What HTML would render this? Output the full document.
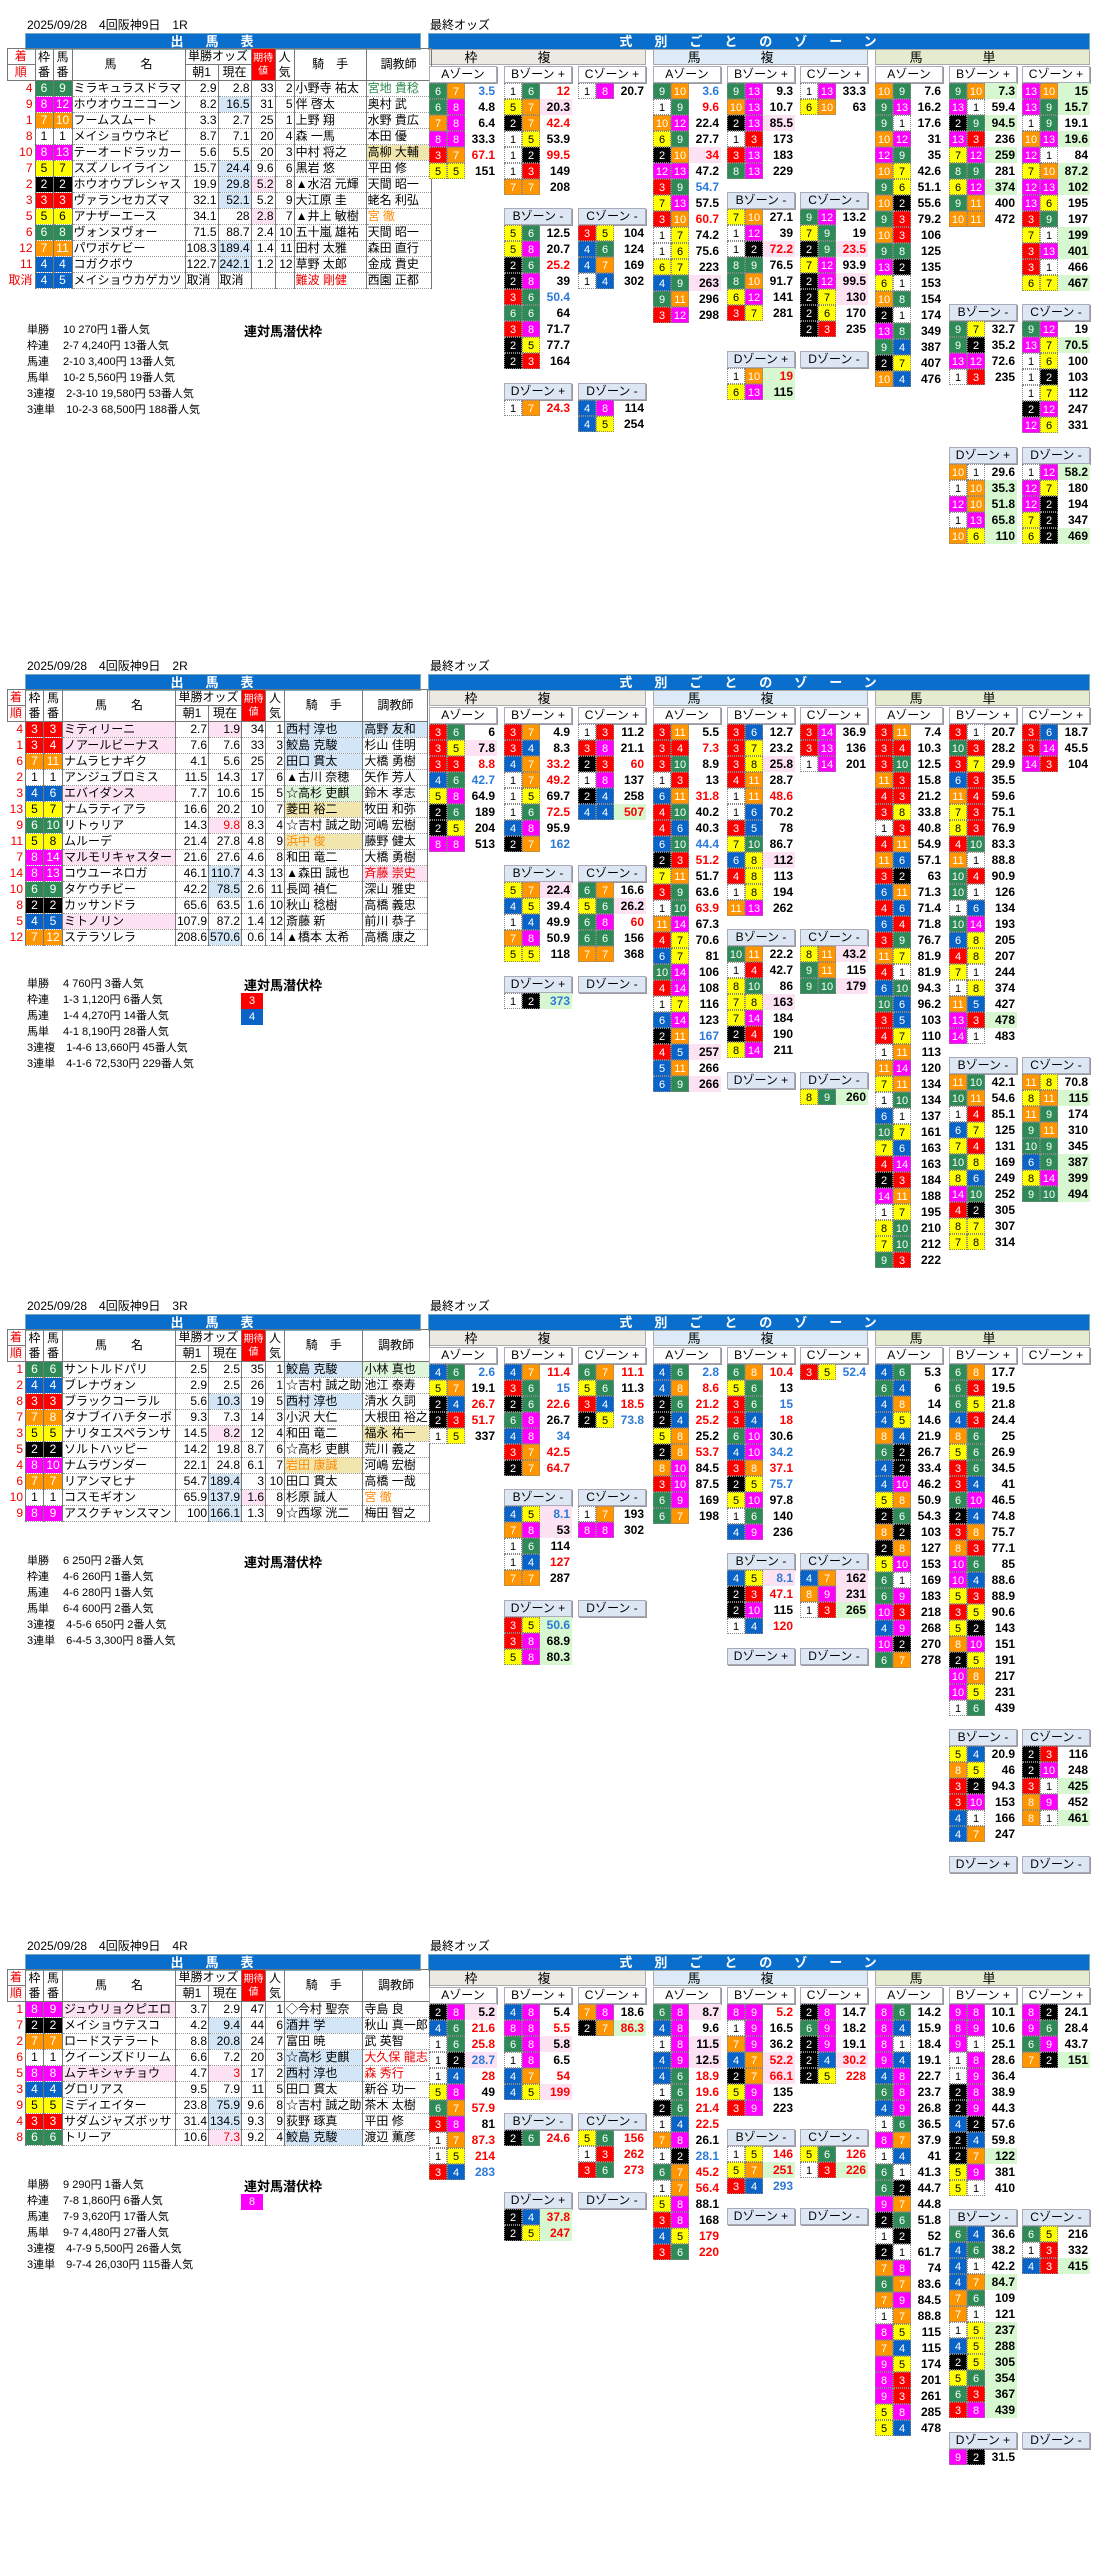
<!DOCTYPE html>
<html><head><meta charset="utf-8">
<style>
body{margin:0;width:1093px;height:2560px;position:relative;background:#fff;font-family:"Liberation Sans","Noto Sans CJK JP",sans-serif;overflow:hidden;color:#000}
.blk{position:absolute;left:0;width:1093px;height:640px}
.ti{position:absolute;left:27px;top:16px;font-size:12px;white-space:pre}
.ti2{left:430px}
.bar{position:absolute;top:33px;height:15px;background:#0a6fcc;color:#fff;font-size:13px;font-weight:bold;text-align:center;line-height:15px;letter-spacing:22px;border:1px solid #7ab}
.sh{position:absolute;top:49px;height:15px;font-size:13px;text-align:center;line-height:15px;border:1px solid #aaa;letter-spacing:60px;box-sizing:border-box;height:16px}
table{position:absolute;left:7px;top:48px;border-collapse:collapse;table-layout:fixed;font-size:12px}
td{height:15px;padding:0 1px;border:1px solid #777;border-top:1px dotted #999;border-bottom:1px dotted #999;white-space:nowrap;overflow:hidden;line-height:15px}
td.o{border:none;color:#e00;text-align:right;padding-right:2px}
tr.hd td{text-align:center;border:1px solid #777;font-size:12px}
td.n{text-align:right}
td.c{text-align:center}
.lb{background:#d3e6f8}.pk{background:#fde2f4}.yl{background:#f1e7ae}.gn{background:#ddf5d8}
.red{color:#e00}.org{color:#f80}.grt{color:#2a8a4a}
.pay{position:absolute;left:27px;font-size:11px;line-height:16px;white-space:pre}
.sen{position:absolute;left:244px;font-size:13px;font-weight:bold}
.sb{position:absolute;left:241px;width:22px;height:16px;color:#fff;text-align:center;font-size:11px;line-height:16px}
.z{position:absolute;width:68px}
.z h6{margin:0;height:15px;border:1px solid #aab;box-shadow:1px 1px 0 #999;font-size:12px;text-align:center;line-height:15px;font-weight:normal;background:#fff;white-space:nowrap}
.z h6.m{background:#dde7f3}
.z p{margin:0;height:16px;display:flex}
.z i{width:18px;height:16px;font-style:normal;text-align:center;font-size:11px;line-height:16px;box-sizing:border-box;border:1px dotted #888}
.z b{flex:1;text-align:right;font-size:12px;line-height:16px;padding-right:2px}
.z b.r{color:#f00}.z b.u{color:#2b7ad8}.z b.g{background:#d6f7d0}.z b.k{background:#fde2f4}
.f1,.b1 .h1,.b2 .h1,.b3 .h1,.b4 .h1{background:#fff;color:#000}
.f2,.b1 .h2,.b2 .h2,.b3 .h2,.b4 .h2{background:#000;color:#fff}
.f3,.b1 .h3,.b2 .h3,.b2 .h4,.b3 .h3,.b4 .h3{background:#f00;color:#fff}
.f4,.b1 .h4,.b1 .h5,.b2 .h5,.b2 .h6,.b3 .h4,.b4 .h4{background:#0a64c8;color:#fff}
.f5,.b1 .h6,.b1 .h7,.b2 .h7,.b2 .h8,.b3 .h5,.b4 .h5{background:#ff0;color:#000}
.f6,.b1 .h8,.b1 .h9,.b2 .h9,.b2 .h10,.b3 .h6,.b4 .h6{background:#2e8b57;color:#fff}
.f7,.b1 .h10,.b1 .h11,.b2 .h11,.b2 .h12,.b3 .h7,.b3 .h8,.b4 .h7{background:#ff9600;color:#fff}
.f8,.b1 .h12,.b1 .h13,.b2 .h13,.b2 .h14,.b3 .h9,.b3 .h10,.b4 .h8,.b4 .h9{background:#f0f;color:#fff}
</style></head><body>

<!-- ================= BLOCK 1 ================= -->
<div class="blk b1" style="top:0">
<div class="ti">2025/09/28　4回阪神9日　1R</div>
<div class="ti ti2">最終オッズ</div>
<div class="bar" style="left:25px;width:394px">出馬表</div>
<div class="bar" style="left:428px;width:660px">式別ごとのゾーン</div>
<div class="sh" style="left:429px;width:217px;background:#ece9e2">枠複</div>
<div class="sh" style="left:653px;width:215px;background:#dcebf7">馬複</div>
<div class="sh" style="left:875px;width:215px;background:#e4ebcf">馬単</div>
<table>
<colgroup><col style="width:18px"><col style="width:18px"><col style="width:19px"><col style="width:113px"><col style="width:33px"><col style="width:33px"><col style="width:24px"><col style="width:19px"><col style="width:72px"><col style="width:65px"></colgroup>
<tr class="hd"><td class="o" style="text-align:center">着</td><td rowspan="2">枠<br>番</td><td rowspan="2">馬<br>番</td><td rowspan="2">馬　　名</td><td colspan="2">単勝オッズ</td><td rowspan="2" style="background:#f00;color:#fff;font-size:10px;white-space:normal;line-height:13px">期待値</td><td rowspan="2">人<br>気</td><td rowspan="2">騎　手</td><td rowspan="2">調教師</td></tr>
<tr class="hd"><td class="o" style="text-align:center">順</td><td>朝1</td><td>現在</td></tr>
<tr><td class="o">4</td><td class="c f6">6</td><td class="c f6">9</td><td>ミラキュラスドラマ</td><td class="n">2.9</td><td class="n">2.8</td><td class="n">33</td><td class="n">2</td><td>小野寺 祐太</td><td class="grt">宮地 貴稔</td></tr>
<tr><td class="o">9</td><td class="c f8">8</td><td class="c f8">12</td><td>ホウオウユニコーン</td><td class="n">8.2</td><td class="n lb">16.5</td><td class="n">31</td><td class="n">5</td><td>伴 啓太</td><td>奥村 武</td></tr>
<tr><td class="o">1</td><td class="c f7">7</td><td class="c f7">10</td><td>フームスムート</td><td class="n">3.3</td><td class="n">2.7</td><td class="n">25</td><td class="n">1</td><td>上野 翔</td><td>水野 貴広</td></tr>
<tr><td class="o">8</td><td class="c f1">1</td><td class="c f1">1</td><td>メイショウウネビ</td><td class="n">8.7</td><td class="n">7.1</td><td class="n">20</td><td class="n">4</td><td>森 一馬</td><td>本田 優</td></tr>
<tr><td class="o">10</td><td class="c f8">8</td><td class="c f8">13</td><td>テーオードラッカー</td><td class="n">5.6</td><td class="n">5.5</td><td class="n">20</td><td class="n">3</td><td>中村 将之</td><td class="yl">高柳 大輔</td></tr>
<tr><td class="o">7</td><td class="c f5">5</td><td class="c f5">7</td><td>スズノレイライン</td><td class="n">15.7</td><td class="n lb">24.4</td><td class="n">9.6</td><td class="n">6</td><td>黒岩 悠</td><td>平田 修</td></tr>
<tr><td class="o">2</td><td class="c f2">2</td><td class="c f2">2</td><td>ホウオウプレシャス</td><td class="n">19.9</td><td class="n lb">29.8</td><td class="n pk">5.2</td><td class="n">8</td><td>▲水沼 元輝</td><td>天間 昭一</td></tr>
<tr><td class="o">3</td><td class="c f3">3</td><td class="c f3">3</td><td>ヴァランセカズマ</td><td class="n">32.1</td><td class="n lb">52.1</td><td class="n">5.2</td><td class="n">9</td><td>大江原 圭</td><td>蛯名 利弘</td></tr>
<tr><td class="o">5</td><td class="c f5">5</td><td class="c f5">6</td><td>アナザーエース</td><td class="n">34.1</td><td class="n">28</td><td class="n pk">2.8</td><td class="n">7</td><td>▲井上 敏樹</td><td class="org">宮 徹</td></tr>
<tr><td class="o">6</td><td class="c f6">6</td><td class="c f6">8</td><td>ヴォンヌヴォー</td><td class="n">71.5</td><td class="n">88.7</td><td class="n">2.4</td><td class="n">10</td><td>五十嵐 雄祐</td><td>天間 昭一</td></tr>
<tr><td class="o">12</td><td class="c f7">7</td><td class="c f7">11</td><td>パワボケビー</td><td class="n">108.3</td><td class="n lb">189.4</td><td class="n">1.4</td><td class="n">11</td><td>田村 太雅</td><td>森田 直行</td></tr>
<tr><td class="o">11</td><td class="c f4">4</td><td class="c f4">4</td><td>コガクボウ</td><td class="n">122.7</td><td class="n lb">242.1</td><td class="n">1.2</td><td class="n">12</td><td>草野 太郎</td><td>金成 貴史</td></tr>
<tr><td class="o">取消</td><td class="c f4">4</td><td class="c f4">5</td><td>メイショウカゲカツ</td><td>取消</td><td>取消</td><td></td><td></td><td class="red">難波 剛健</td><td>西園 正都</td></tr>
</table>
<div class="pay" style="top:322px">単勝　 10 270円 1番人気
枠連　 2-7 4,240円 13番人気
馬連　 2-10 3,400円 13番人気
馬単　 10-2 5,560円 19番人気
3連複　2-3-10 19,580円 53番人気
3連単　10-2-3 68,500円 188番人気</div>
<div class="sen" style="top:321px">連対馬潜伏枠</div>

<div class="z" style="left:429px;top:66px"><h6>Aゾーン</h6>
<p><i class=f6>6</i><i class=f7>7</i><b class=u>3.5</b></p><p><i class=f6>6</i><i class=f8>8</i><b>4.8</b></p><p><i class=f7>7</i><i class=f8>8</i><b>6.4</b></p><p><i class=f8>8</i><i class=f8>8</i><b>33.3</b></p><p><i class=f3>3</i><i class=f7>7</i><b class=r>67.1</b></p><p><i class=f5>5</i><i class=f5>5</i><b>151</b></p></div>
<div class="z" style="left:504px;top:66px"><h6>Bゾーン +</h6>
<p><i class=f1>1</i><i class=f6>6</i><b class=r>12</b></p><p><i class=f5>5</i><i class=f7>7</i><b class=k>20.3</b></p><p><i class=f2>2</i><i class=f7>7</i><b class=r>42.4</b></p><p><i class=f1>1</i><i class=f5>5</i><b>53.9</b></p><p><i class=f1>1</i><i class=f2>2</i><b class=r>99.5</b></p><p><i class=f1>1</i><i class=f3>3</i><b>149</b></p><p><i class=f7>7</i><i class=f7>7</i><b>208</b></p></div>
<div class="z" style="left:578px;top:66px"><h6>Cゾーン +</h6>
<p><i class=f1>1</i><i class=f8>8</i><b>20.7</b></p></div>
<div class="z" style="left:504px;top:208px"><h6 class=m>Bゾーン -</h6>
<p><i class=f5>5</i><i class=f6>6</i><b>12.5</b></p><p><i class=f5>5</i><i class=f8>8</i><b>20.7</b></p><p><i class=f2>2</i><i class=f6>6</i><b class=r>25.2</b></p><p><i class=f2>2</i><i class=f8>8</i><b>39</b></p><p><i class=f3>3</i><i class=f6>6</i><b class=u>50.4</b></p><p><i class=f6>6</i><i class=f6>6</i><b>64</b></p><p><i class=f3>3</i><i class=f8>8</i><b>71.7</b></p><p><i class=f2>2</i><i class=f5>5</i><b>77.7</b></p><p><i class=f2>2</i><i class=f3>3</i><b>164</b></p></div>
<div class="z" style="left:578px;top:208px"><h6 class=m>Cゾーン -</h6>
<p><i class=f3>3</i><i class=f5>5</i><b>104</b></p><p><i class=f4>4</i><i class=f6>6</i><b>124</b></p><p><i class=f4>4</i><i class=f7>7</i><b>169</b></p><p><i class=f1>1</i><i class=f4>4</i><b>302</b></p></div>
<div class="z" style="left:504px;top:383px"><h6 class=m>Dゾーン +</h6>
<p><i class=f1>1</i><i class=f7>7</i><b class=r>24.3</b></p></div>
<div class="z" style="left:578px;top:383px"><h6 class=m>Dゾーン -</h6>
<p><i class=f4>4</i><i class=f8>8</i><b>114</b></p><p><i class=f4>4</i><i class=f5>5</i><b>254</b></p></div>

<div class="z" style="left:653px;top:66px"><h6>Aゾーン</h6>
<p><i class=h9>9</i><i class=h10>10</i><b class=u>3.6</b></p><p><i class=h1>1</i><i class=h9>9</i><b class=r>9.6</b></p><p><i class=h10>10</i><i class=h12>12</i><b>22.4</b></p><p><i class=h6>6</i><i class=h9>9</i><b>27.7</b></p><p><i class=h2>2</i><i class=h10>10</i><b class="r k">34</b></p><p><i class=h12>12</i><i class=h13>13</i><b>47.2</b></p><p><i class=h3>3</i><i class=h9>9</i><b class=u>54.7</b></p><p><i class=h7>7</i><i class=h13>13</i><b>57.5</b></p><p><i class=h3>3</i><i class=h10>10</i><b class=r>60.7</b></p><p><i class=h1>1</i><i class=h7>7</i><b>74.2</b></p><p><i class=h1>1</i><i class=h6>6</i><b>75.6</b></p><p><i class=h6>6</i><i class=h7>7</i><b>223</b></p><p><i class=h4>4</i><i class=h9>9</i><b class=k>263</b></p><p><i class=h9>9</i><i class=h11>11</i><b>296</b></p><p><i class=h3>3</i><i class=h12>12</i><b>298</b></p></div>
<div class="z" style="left:727px;top:66px"><h6>Bゾーン +</h6>
<p><i class=h9>9</i><i class=h13>13</i><b>9.3</b></p><p><i class=h10>10</i><i class=h13>13</i><b>10.7</b></p><p><i class=h2>2</i><i class=h13>13</i><b class=k>85.5</b></p><p><i class=h1>1</i><i class=h3>3</i><b>173</b></p><p><i class=h3>3</i><i class=h13>13</i><b>183</b></p><p><i class=h8>8</i><i class=h13>13</i><b>229</b></p></div>
<div class="z" style="left:800px;top:66px"><h6>Cゾーン +</h6>
<p><i class=h1>1</i><i class=h13>13</i><b>33.3</b></p><p><i class=h6>6</i><i class=h10>10</i><b>63</b></p></div>
<div class="z" style="left:727px;top:192px"><h6 class=m>Bゾーン -</h6>
<p><i class=h7>7</i><i class=h10>10</i><b>27.1</b></p><p><i class=h1>1</i><i class=h12>12</i><b>39</b></p><p><i class=h1>1</i><i class=h2>2</i><b class="r k">72.2</b></p><p><i class=h8>8</i><i class=h9>9</i><b>76.5</b></p><p><i class=h8>8</i><i class=h10>10</i><b>91.7</b></p><p><i class=h6>6</i><i class=h12>12</i><b>141</b></p><p><i class=h3>3</i><i class=h7>7</i><b>281</b></p></div>
<div class="z" style="left:800px;top:192px"><h6 class=m>Cゾーン -</h6>
<p><i class=h9>9</i><i class=h12>12</i><b>13.2</b></p><p><i class=h7>7</i><i class=h9>9</i><b>19</b></p><p><i class=h2>2</i><i class=h9>9</i><b class="r k">23.5</b></p><p><i class=h7>7</i><i class=h12>12</i><b>93.9</b></p><p><i class=h2>2</i><i class=h12>12</i><b class=k>99.5</b></p><p><i class=h2>2</i><i class=h7>7</i><b class=k>130</b></p><p><i class=h2>2</i><i class=h6>6</i><b>170</b></p><p><i class=h2>2</i><i class=h3>3</i><b>235</b></p></div>
<div class="z" style="left:727px;top:351px"><h6 class=m>Dゾーン +</h6>
<p><i class=h1>1</i><i class=h10>10</i><b class="r g">19</b></p><p><i class=h6>6</i><i class=h13>13</i><b class=g>115</b></p></div>
<div class="z" style="left:800px;top:351px"><h6 class=m>Dゾーン -</h6></div>

<div class="z" style="left:875px;top:66px"><h6>Aゾーン</h6>
<p><i class=h10>10</i><i class=h9>9</i><b>7.6</b></p><p><i class=h9>9</i><i class=h13>13</i><b>16.2</b></p><p><i class=h9>9</i><i class=h1>1</i><b>17.6</b></p><p><i class=h10>10</i><i class=h12>12</i><b>31</b></p><p><i class=h12>12</i><i class=h9>9</i><b>35</b></p><p><i class=h10>10</i><i class=h7>7</i><b>42.6</b></p><p><i class=h9>9</i><i class=h6>6</i><b>51.1</b></p><p><i class=h10>10</i><i class=h2>2</i><b>55.6</b></p><p><i class=h9>9</i><i class=h3>3</i><b>79.2</b></p><p><i class=h10>10</i><i class=h3>3</i><b>106</b></p><p><i class=h9>9</i><i class=h8>8</i><b>125</b></p><p><i class=h13>13</i><i class=h2>2</i><b>135</b></p><p><i class=h6>6</i><i class=h1>1</i><b>153</b></p><p><i class=h10>10</i><i class=h8>8</i><b>154</b></p><p><i class=h2>2</i><i class=h1>1</i><b>174</b></p><p><i class=h13>13</i><i class=h8>8</i><b>349</b></p><p><i class=h9>9</i><i class=h4>4</i><b>387</b></p><p><i class=h2>2</i><i class=h7>7</i><b>407</b></p><p><i class=h10>10</i><i class=h4>4</i><b>476</b></p></div>
<div class="z" style="left:949px;top:66px"><h6>Bゾーン +</h6>
<p><i class=h9>9</i><i class=h10>10</i><b class=g>7.3</b></p><p><i class=h13>13</i><i class=h1>1</i><b>59.4</b></p><p><i class=h2>2</i><i class=h9>9</i><b class=g>94.5</b></p><p><i class=h13>13</i><i class=h3>3</i><b>236</b></p><p><i class=h7>7</i><i class=h12>12</i><b class=g>259</b></p><p><i class=h8>8</i><i class=h9>9</i><b>281</b></p><p><i class=h6>6</i><i class=h12>12</i><b class=g>374</b></p><p><i class=h9>9</i><i class=h11>11</i><b>400</b></p><p><i class=h10>10</i><i class=h11>11</i><b>472</b></p></div>
<div class="z" style="left:1022px;top:66px"><h6>Cゾーン +</h6>
<p><i class=h13>13</i><i class=h10>10</i><b class=g>15</b></p><p><i class=h13>13</i><i class=h9>9</i><b class=g>15.7</b></p><p><i class=h1>1</i><i class=h9>9</i><b>19.1</b></p><p><i class=h10>10</i><i class=h13>13</i><b class=g>19.6</b></p><p><i class=h12>12</i><i class=h1>1</i><b>84</b></p><p><i class=h7>7</i><i class=h10>10</i><b class=g>87.2</b></p><p><i class=h12>12</i><i class=h13>13</i><b class=g>102</b></p><p><i class=h13>13</i><i class=h6>6</i><b>195</b></p><p><i class=h3>3</i><i class=h9>9</i><b>197</b></p><p><i class=h7>7</i><i class=h1>1</i><b class=g>199</b></p><p><i class=h3>3</i><i class=h13>13</i><b class=g>401</b></p><p><i class=h3>3</i><i class=h1>1</i><b>466</b></p><p><i class=h6>6</i><i class=h7>7</i><b class=g>467</b></p></div>
<div class="z" style="left:949px;top:304px"><h6 class=m>Bゾーン -</h6>
<p><i class=h9>9</i><i class=h7>7</i><b>32.7</b></p><p><i class=h9>9</i><i class=h2>2</i><b>35.2</b></p><p><i class=h13>13</i><i class=h12>12</i><b>72.6</b></p><p><i class=h1>1</i><i class=h3>3</i><b>235</b></p></div>
<div class="z" style="left:1022px;top:304px"><h6 class=m>Cゾーン -</h6>
<p><i class=h9>9</i><i class=h12>12</i><b>19</b></p><p><i class=h13>13</i><i class=h7>7</i><b class=g>70.5</b></p><p><i class=h1>1</i><i class=h6>6</i><b>100</b></p><p><i class=h1>1</i><i class=h2>2</i><b>103</b></p><p><i class=h1>1</i><i class=h7>7</i><b>112</b></p><p><i class=h2>2</i><i class=h12>12</i><b>247</b></p><p><i class=h12>12</i><i class=h6>6</i><b>331</b></p></div>
<div class="z" style="left:949px;top:447px"><h6 class=m>Dゾーン +</h6>
<p><i class=h10>10</i><i class=h1>1</i><b>29.6</b></p><p><i class=h1>1</i><i class=h10>10</i><b class=g>35.3</b></p><p><i class=h12>12</i><i class=h10>10</i><b class=g>51.8</b></p><p><i class=h1>1</i><i class=h13>13</i><b class=g>65.8</b></p><p><i class=h10>10</i><i class=h6>6</i><b class=g>110</b></p></div>
<div class="z" style="left:1022px;top:447px"><h6 class=m>Dゾーン -</h6>
<p><i class=h1>1</i><i class=h12>12</i><b class=g>58.2</b></p><p><i class=h12>12</i><i class=h7>7</i><b>180</b></p><p><i class=h12>12</i><i class=h2>2</i><b>194</b></p><p><i class=h7>7</i><i class=h2>2</i><b>347</b></p><p><i class=h6>6</i><i class=h2>2</i><b class=g>469</b></p></div>
</div>

<!-- ================= BLOCK 2 ================= -->
<div class="blk b2" style="top:641px">
<div class="ti">2025/09/28　4回阪神9日　2R</div>
<div class="ti ti2">最終オッズ</div>
<div class="bar" style="left:25px;width:394px">出馬表</div>
<div class="bar" style="left:428px;width:660px">式別ごとのゾーン</div>
<div class="sh" style="left:429px;width:217px;background:#ece9e2">枠複</div>
<div class="sh" style="left:653px;width:215px;background:#dcebf7">馬複</div>
<div class="sh" style="left:875px;width:215px;background:#e4ebcf">馬単</div>
<table>
<colgroup><col style="width:18px"><col style="width:18px"><col style="width:19px"><col style="width:113px"><col style="width:33px"><col style="width:33px"><col style="width:24px"><col style="width:19px"><col style="width:72px"><col style="width:65px"></colgroup>
<tr class="hd"><td class="o" style="text-align:center">着</td><td rowspan="2">枠<br>番</td><td rowspan="2">馬<br>番</td><td rowspan="2">馬　　名</td><td colspan="2">単勝オッズ</td><td rowspan="2" style="background:#f00;color:#fff;font-size:10px;white-space:normal;line-height:13px">期待値</td><td rowspan="2">人<br>気</td><td rowspan="2">騎　手</td><td rowspan="2">調教師</td></tr>
<tr class="hd"><td class="o" style="text-align:center">順</td><td>朝1</td><td>現在</td></tr>
<tr><td class="o">4</td><td class="c f3">3</td><td class="c f3">3</td><td class="pk">ミティリーニ</td><td class="n">2.7</td><td class="n pk">1.9</td><td class="n">34</td><td class="n">1</td><td class="lb">西村 淳也</td><td class="lb">高野 友和</td></tr>
<tr><td class="o">1</td><td class="c f3">3</td><td class="c f3">4</td><td class="pk">ノアールビーナス</td><td class="n">7.6</td><td class="n">7.6</td><td class="n">33</td><td class="n">3</td><td class="lb">鮫島 克駿</td><td>杉山 佳明</td></tr>
<tr><td class="o">6</td><td class="c f7">7</td><td class="c f7">11</td><td>ナムラヒナギク</td><td class="n">4.1</td><td class="n">5.6</td><td class="n">25</td><td class="n">2</td><td class="lb">田口 貫太</td><td>大橋 勇樹</td></tr>
<tr><td class="o">2</td><td class="c f1">1</td><td class="c f1">1</td><td>アンジュブロミス</td><td class="n">11.5</td><td class="n">14.3</td><td class="n">17</td><td class="n">6</td><td>▲古川 奈穂</td><td>矢作 芳人</td></tr>
<tr><td class="o">3</td><td class="c f4">4</td><td class="c f4">6</td><td class="pk">エバイダンス</td><td class="n">7.7</td><td class="n">10.6</td><td class="n">15</td><td class="n">5</td><td class="gn">☆高杉 吏麒</td><td>鈴木 孝志</td></tr>
<tr><td class="o">13</td><td class="c f5">5</td><td class="c f5">7</td><td>ナムラティアラ</td><td class="n">16.6</td><td class="n">20.2</td><td class="n">10</td><td class="n">7</td><td class="yl">菱田 裕二</td><td>牧田 和弥</td></tr>
<tr><td class="o">9</td><td class="c f6">6</td><td class="c f6">10</td><td>リトゥリア</td><td class="n">14.3</td><td class="n pk red">9.8</td><td class="n">8.3</td><td class="n">4</td><td>☆吉村 誠之助</td><td>河嶋 宏樹</td></tr>
<tr><td class="o">11</td><td class="c f5">5</td><td class="c f5">8</td><td>ムルーデ</td><td class="n">21.4</td><td class="n">27.8</td><td class="n">4.8</td><td class="n">9</td><td class="yl org">浜中 俊</td><td>藤野 健太</td></tr>
<tr><td class="o">7</td><td class="c f8">8</td><td class="c f8">14</td><td class="pk">マルモリキャスター</td><td class="n">21.6</td><td class="n">27.6</td><td class="n">4.6</td><td class="n">8</td><td>和田 竜二</td><td>大橋 勇樹</td></tr>
<tr><td class="o">14</td><td class="c f8">8</td><td class="c f8">13</td><td>コウユーネロガ</td><td class="n">46.1</td><td class="n lb">110.7</td><td class="n">4.3</td><td class="n">13</td><td>▲森田 誠也</td><td class="pk red">斉藤 崇史</td></tr>
<tr><td class="o">10</td><td class="c f6">6</td><td class="c f6">9</td><td>タケウチビー</td><td class="n">42.2</td><td class="n lb">78.5</td><td class="n">2.6</td><td class="n">11</td><td>長岡 禎仁</td><td>深山 雅史</td></tr>
<tr><td class="o">8</td><td class="c f2">2</td><td class="c f2">2</td><td>カッサンドラ</td><td class="n">65.6</td><td class="n">63.5</td><td class="n">1.6</td><td class="n">10</td><td>秋山 稔樹</td><td>高橋 義忠</td></tr>
<tr><td class="o">5</td><td class="c f4">4</td><td class="c f4">5</td><td class="pk">ミトノリン</td><td class="n">107.9</td><td class="n">87.2</td><td class="n">1.4</td><td class="n">12</td><td>斎藤 新</td><td>前川 恭子</td></tr>
<tr><td class="o">12</td><td class="c f7">7</td><td class="c f7">12</td><td>ステラソレラ</td><td class="n">208.6</td><td class="n lb">570.6</td><td class="n">0.6</td><td class="n">14</td><td>▲橋本 太希</td><td>高橋 康之</td></tr>
</table>
<div class="pay" style="top:335px">単勝　 4 760円 3番人気
枠連　 1-3 1,120円 6番人気
馬連　 1-4 4,270円 14番人気
馬単　 4-1 8,190円 28番人気
3連複　1-4-6 13,660円 45番人気
3連単　4-1-6 72,530円 229番人気</div>
<div class="sen" style="top:334px">連対馬潜伏枠</div>
<div class="sb f3" style="top:352px">3</div>
<div class="sb f4" style="top:368px">4</div>

<div class="z" style="left:429px;top:66px"><h6>Aゾーン</h6>
<p><i class=f3>3</i><i class=f6>6</i><b>6</b></p><p><i class=f3>3</i><i class=f5>5</i><b class=k>7.8</b></p><p><i class=f3>3</i><i class=f3>3</i><b class=r>8.8</b></p><p><i class=f4>4</i><i class=f6>6</i><b class=u>42.7</b></p><p><i class=f5>5</i><i class=f8>8</i><b>64.9</b></p><p><i class=f2>2</i><i class=f6>6</i><b>189</b></p><p><i class=f2>2</i><i class=f5>5</i><b>204</b></p><p><i class=f8>8</i><i class=f8>8</i><b>513</b></p></div>
<div class="z" style="left:504px;top:66px"><h6>Bゾーン +</h6>
<p><i class=f3>3</i><i class=f7>7</i><b>4.9</b></p><p><i class=f3>3</i><i class=f4>4</i><b>8.3</b></p><p><i class=f4>4</i><i class=f7>7</i><b class=r>33.2</b></p><p><i class=f1>1</i><i class=f7>7</i><b class=r>49.2</b></p><p><i class=f1>1</i><i class=f5>5</i><b>69.7</b></p><p><i class=f1>1</i><i class=f6>6</i><b class=r>72.5</b></p><p><i class=f4>4</i><i class=f8>8</i><b>95.9</b></p><p><i class=f2>2</i><i class=f7>7</i><b class=u>162</b></p></div>
<div class="z" style="left:578px;top:66px"><h6>Cゾーン +</h6>
<p><i class=f1>1</i><i class=f3>3</i><b>11.2</b></p><p><i class=f3>3</i><i class=f8>8</i><b>21.1</b></p><p><i class=f2>2</i><i class=f3>3</i><b class=r>60</b></p><p><i class=f1>1</i><i class=f8>8</i><b>137</b></p><p><i class=f2>2</i><i class=f4>4</i><b>258</b></p><p><i class=f4>4</i><i class=f4>4</i><b class="r g">507</b></p></div>
<div class="z" style="left:504px;top:224px"><h6 class=m>Bゾーン -</h6>
<p><i class=f5>5</i><i class=f7>7</i><b class=k>22.4</b></p><p><i class=f4>4</i><i class=f5>5</i><b>39.4</b></p><p><i class=f1>1</i><i class=f4>4</i><b>49.9</b></p><p><i class=f7>7</i><i class=f8>8</i><b>50.9</b></p><p><i class=f5>5</i><i class=f5>5</i><b>118</b></p></div>
<div class="z" style="left:578px;top:224px"><h6 class=m>Cゾーン -</h6>
<p><i class=f6>6</i><i class=f7>7</i><b>16.6</b></p><p><i class=f5>5</i><i class=f6>6</i><b class=k>26.2</b></p><p><i class=f6>6</i><i class=f8>8</i><b class=r>60</b></p><p><i class=f6>6</i><i class=f6>6</i><b>156</b></p><p><i class=f7>7</i><i class=f7>7</i><b>368</b></p></div>
<div class="z" style="left:504px;top:335px"><h6 class=m>Dゾーン +</h6>
<p><i class=f1>1</i><i class=f2>2</i><b class="u g">373</b></p></div>
<div class="z" style="left:578px;top:335px"><h6 class=m>Dゾーン -</h6></div>

<div class="z" style="left:653px;top:66px"><h6>Aゾーン</h6>
<p><i class=h3>3</i><i class=h11>11</i><b>5.5</b></p><p><i class=h3>3</i><i class=h4>4</i><b class=r>7.3</b></p><p><i class=h3>3</i><i class=h10>10</i><b>8.9</b></p><p><i class=h1>1</i><i class=h3>3</i><b>13</b></p><p><i class=h6>6</i><i class=h11>11</i><b class=r>31.8</b></p><p><i class=h4>4</i><i class=h10>10</i><b>40.2</b></p><p><i class=h4>4</i><i class=h6>6</i><b>40.3</b></p><p><i class=h6>6</i><i class=h10>10</i><b class=u>44.4</b></p><p><i class=h2>2</i><i class=h3>3</i><b class=r>51.2</b></p><p><i class=h7>7</i><i class=h11>11</i><b>51.7</b></p><p><i class=h3>3</i><i class=h9>9</i><b>63.6</b></p><p><i class=h1>1</i><i class=h10>10</i><b class=r>63.9</b></p><p><i class=h11>11</i><i class=h14>14</i><b>67.3</b></p><p><i class=h4>4</i><i class=h7>7</i><b>70.6</b></p><p><i class=h6>6</i><i class=h7>7</i><b>81</b></p><p><i class=h10>10</i><i class=h14>14</i><b>106</b></p><p><i class=h4>4</i><i class=h14>14</i><b>108</b></p><p><i class=h1>1</i><i class=h7>7</i><b>116</b></p><p><i class=h6>6</i><i class=h14>14</i><b>123</b></p><p><i class=h2>2</i><i class=h11>11</i><b class=u>167</b></p><p><i class=h4>4</i><i class=h5>5</i><b class=k>257</b></p><p><i class=h5>5</i><i class=h11>11</i><b>266</b></p><p><i class=h6>6</i><i class=h9>9</i><b class=k>266</b></p></div>
<div class="z" style="left:727px;top:66px"><h6>Bゾーン +</h6>
<p><i class=h3>3</i><i class=h6>6</i><b>12.7</b></p><p><i class=h3>3</i><i class=h7>7</i><b>23.2</b></p><p><i class=h3>3</i><i class=h8>8</i><b class=k>25.8</b></p><p><i class=h4>4</i><i class=h11>11</i><b>28.7</b></p><p><i class=h1>1</i><i class=h11>11</i><b class=r>48.6</b></p><p><i class=h1>1</i><i class=h6>6</i><b>70.2</b></p><p><i class=h3>3</i><i class=h5>5</i><b>78</b></p><p><i class=h7>7</i><i class=h10>10</i><b>86.7</b></p><p><i class=h6>6</i><i class=h8>8</i><b class=k>112</b></p><p><i class=h4>4</i><i class=h8>8</i><b>113</b></p><p><i class=h1>1</i><i class=h8>8</i><b>194</b></p><p><i class=h11>11</i><i class=h13>13</i><b>262</b></p></div>
<div class="z" style="left:800px;top:66px"><h6>Cゾーン +</h6>
<p><i class=h3>3</i><i class=h14>14</i><b>36.9</b></p><p><i class=h3>3</i><i class=h13>13</i><b>136</b></p><p><i class=h1>1</i><i class=h14>14</i><b>201</b></p></div>
<div class="z" style="left:727px;top:288px"><h6 class=m>Bゾーン -</h6>
<p><i class=h10>10</i><i class=h11>11</i><b>22.2</b></p><p><i class=h1>1</i><i class=h4>4</i><b>42.7</b></p><p><i class=h8>8</i><i class=h10>10</i><b>86</b></p><p><i class=h7>7</i><i class=h8>8</i><b class=k>163</b></p><p><i class=h7>7</i><i class=h14>14</i><b>184</b></p><p><i class=h2>2</i><i class=h4>4</i><b>190</b></p><p><i class=h8>8</i><i class=h14>14</i><b>211</b></p></div>
<div class="z" style="left:800px;top:288px"><h6 class=m>Cゾーン -</h6>
<p><i class=h8>8</i><i class=h11>11</i><b class=k>43.2</b></p><p><i class=h9>9</i><i class=h11>11</i><b>115</b></p><p><i class=h9>9</i><i class=h10>10</i><b class=k>179</b></p></div>
<div class="z" style="left:727px;top:431px"><h6 class=m>Dゾーン +</h6></div>
<div class="z" style="left:800px;top:431px"><h6 class=m>Dゾーン -</h6>
<p><i class=h8>8</i><i class=h9>9</i><b class=g>260</b></p></div>

<div class="z" style="left:875px;top:66px"><h6>Aゾーン</h6>
<p><i class=h3>3</i><i class=h11>11</i><b>7.4</b></p><p><i class=h3>3</i><i class=h4>4</i><b>10.3</b></p><p><i class=h3>3</i><i class=h10>10</i><b>12.5</b></p><p><i class=h11>11</i><i class=h3>3</i><b>15.8</b></p><p><i class=h4>4</i><i class=h3>3</i><b>21.2</b></p><p><i class=h3>3</i><i class=h8>8</i><b>33.8</b></p><p><i class=h1>1</i><i class=h3>3</i><b>40.8</b></p><p><i class=h4>4</i><i class=h11>11</i><b>54.9</b></p><p><i class=h11>11</i><i class=h6>6</i><b>57.1</b></p><p><i class=h3>3</i><i class=h2>2</i><b>63</b></p><p><i class=h6>6</i><i class=h11>11</i><b>71.3</b></p><p><i class=h4>4</i><i class=h6>6</i><b>71.4</b></p><p><i class=h6>6</i><i class=h4>4</i><b>71.8</b></p><p><i class=h3>3</i><i class=h9>9</i><b>76.7</b></p><p><i class=h11>11</i><i class=h7>7</i><b>81.9</b></p><p><i class=h4>4</i><i class=h1>1</i><b>81.9</b></p><p><i class=h6>6</i><i class=h10>10</i><b>94.3</b></p><p><i class=h10>10</i><i class=h6>6</i><b>96.2</b></p><p><i class=h3>3</i><i class=h5>5</i><b>103</b></p><p><i class=h4>4</i><i class=h7>7</i><b>110</b></p><p><i class=h1>1</i><i class=h11>11</i><b>113</b></p><p><i class=h11>11</i><i class=h14>14</i><b>120</b></p><p><i class=h7>7</i><i class=h11>11</i><b>134</b></p><p><i class=h1>1</i><i class=h10>10</i><b>134</b></p><p><i class=h6>6</i><i class=h1>1</i><b>137</b></p><p><i class=h10>10</i><i class=h7>7</i><b>161</b></p><p><i class=h7>7</i><i class=h6>6</i><b>163</b></p><p><i class=h4>4</i><i class=h14>14</i><b>163</b></p><p><i class=h2>2</i><i class=h3>3</i><b>184</b></p><p><i class=h14>14</i><i class=h11>11</i><b>188</b></p><p><i class=h1>1</i><i class=h7>7</i><b>195</b></p><p><i class=h8>8</i><i class=h10>10</i><b>210</b></p><p><i class=h7>7</i><i class=h10>10</i><b>212</b></p><p><i class=h9>9</i><i class=h3>3</i><b>222</b></p></div>
<div class="z" style="left:949px;top:66px"><h6>Bゾーン +</h6>
<p><i class=h3>3</i><i class=h1>1</i><b>20.7</b></p><p><i class=h10>10</i><i class=h3>3</i><b>28.2</b></p><p><i class=h3>3</i><i class=h7>7</i><b>29.9</b></p><p><i class=h6>6</i><i class=h3>3</i><b>35.5</b></p><p><i class=h11>11</i><i class=h4>4</i><b>59.6</b></p><p><i class=h7>7</i><i class=h3>3</i><b>75.1</b></p><p><i class=h8>8</i><i class=h3>3</i><b>76.9</b></p><p><i class=h4>4</i><i class=h10>10</i><b>83.3</b></p><p><i class=h11>11</i><i class=h1>1</i><b>88.8</b></p><p><i class=h10>10</i><i class=h4>4</i><b>90.9</b></p><p><i class=h10>10</i><i class=h1>1</i><b>126</b></p><p><i class=h1>1</i><i class=h6>6</i><b>134</b></p><p><i class=h10>10</i><i class=h14>14</i><b>193</b></p><p><i class=h6>6</i><i class=h8>8</i><b>205</b></p><p><i class=h4>4</i><i class=h8>8</i><b>207</b></p><p><i class=h7>7</i><i class=h1>1</i><b>244</b></p><p><i class=h1>1</i><i class=h8>8</i><b>374</b></p><p><i class=h11>11</i><i class=h5>5</i><b>427</b></p><p><i class=h13>13</i><i class=h3>3</i><b class=g>478</b></p><p><i class=h14>14</i><i class=h1>1</i><b>483</b></p></div>
<div class="z" style="left:1022px;top:66px"><h6>Cゾーン +</h6>
<p><i class=h3>3</i><i class=h6>6</i><b>18.7</b></p><p><i class=h3>3</i><i class=h14>14</i><b>45.5</b></p><p><i class=h14>14</i><i class=h3>3</i><b>104</b></p></div>
<div class="z" style="left:949px;top:416px"><h6 class=m>Bゾーン -</h6>
<p><i class=h11>11</i><i class=h10>10</i><b>42.1</b></p><p><i class=h10>10</i><i class=h11>11</i><b>54.6</b></p><p><i class=h1>1</i><i class=h4>4</i><b>85.1</b></p><p><i class=h6>6</i><i class=h7>7</i><b>125</b></p><p><i class=h7>7</i><i class=h4>4</i><b>131</b></p><p><i class=h10>10</i><i class=h8>8</i><b>169</b></p><p><i class=h8>8</i><i class=h6>6</i><b>249</b></p><p><i class=h14>14</i><i class=h10>10</i><b>252</b></p><p><i class=h4>4</i><i class=h2>2</i><b>305</b></p><p><i class=h8>8</i><i class=h7>7</i><b>307</b></p><p><i class=h7>7</i><i class=h8>8</i><b>314</b></p></div>
<div class="z" style="left:1022px;top:416px"><h6 class=m>Cゾーン -</h6>
<p><i class=h11>11</i><i class=h8>8</i><b>70.8</b></p><p><i class=h8>8</i><i class=h11>11</i><b class=g>115</b></p><p><i class=h11>11</i><i class=h9>9</i><b>174</b></p><p><i class=h9>9</i><i class=h11>11</i><b>310</b></p><p><i class=h10>10</i><i class=h9>9</i><b>345</b></p><p><i class=h6>6</i><i class=h9>9</i><b class=g>387</b></p><p><i class=h8>8</i><i class=h14>14</i><b class=g>399</b></p><p><i class=h9>9</i><i class=h10>10</i><b class=g>494</b></p></div>
</div>

<!-- ================= BLOCK 3 ================= -->
<div class="blk b3" style="top:1281px">
<div class="ti">2025/09/28　4回阪神9日　3R</div>
<div class="ti ti2">最終オッズ</div>
<div class="bar" style="left:25px;width:394px">出馬表</div>
<div class="bar" style="left:428px;width:660px">式別ごとのゾーン</div>
<div class="sh" style="left:429px;width:217px;background:#ece9e2">枠複</div>
<div class="sh" style="left:653px;width:215px;background:#dcebf7">馬複</div>
<div class="sh" style="left:875px;width:215px;background:#e4ebcf">馬単</div>
<table>
<colgroup><col style="width:18px"><col style="width:18px"><col style="width:19px"><col style="width:113px"><col style="width:33px"><col style="width:33px"><col style="width:24px"><col style="width:19px"><col style="width:72px"><col style="width:65px"></colgroup>
<tr class="hd"><td class="o" style="text-align:center">着</td><td rowspan="2">枠<br>番</td><td rowspan="2">馬<br>番</td><td rowspan="2">馬　　名</td><td colspan="2">単勝オッズ</td><td rowspan="2" style="background:#f00;color:#fff;font-size:10px;white-space:normal;line-height:13px">期待値</td><td rowspan="2">人<br>気</td><td rowspan="2">騎　手</td><td rowspan="2">調教師</td></tr>
<tr class="hd"><td class="o" style="text-align:center">順</td><td>朝1</td><td>現在</td></tr>
<tr><td class="o">1</td><td class="c f6">6</td><td class="c f6">6</td><td>サントルドパリ</td><td class="n">2.5</td><td class="n">2.5</td><td class="n">35</td><td class="n">1</td><td class="lb">鮫島 克駿</td><td class="gn">小林 真也</td></tr>
<tr><td class="o">2</td><td class="c f4">4</td><td class="c f4">4</td><td>ブレナヴォン</td><td class="n">2.9</td><td class="n">2.5</td><td class="n">26</td><td class="n">1</td><td>☆吉村 誠之助</td><td>池江 泰寿</td></tr>
<tr><td class="o">8</td><td class="c f3">3</td><td class="c f3">3</td><td>ブラックコーラル</td><td class="n">5.6</td><td class="n lb">10.3</td><td class="n">19</td><td class="n">5</td><td class="lb">西村 淳也</td><td>清水 久詞</td></tr>
<tr><td class="o">7</td><td class="c f7">7</td><td class="c f7">8</td><td>タナブイハチターボ</td><td class="n">9.3</td><td class="n">7.3</td><td class="n">14</td><td class="n">3</td><td>小沢 大仁</td><td>大根田 裕之</td></tr>
<tr><td class="o">3</td><td class="c f5">5</td><td class="c f5">5</td><td>ナリタエスペランサ</td><td class="n">14.5</td><td class="n pk">8.2</td><td class="n">12</td><td class="n">4</td><td>和田 竜二</td><td class="yl">福永 祐一</td></tr>
<tr><td class="o">5</td><td class="c f2">2</td><td class="c f2">2</td><td>ソルトハッピー</td><td class="n">14.2</td><td class="n">19.8</td><td class="n">8.7</td><td class="n">6</td><td>☆高杉 吏麒</td><td>荒川 義之</td></tr>
<tr><td class="o">4</td><td class="c f8">8</td><td class="c f8">10</td><td>ナムラヴンダー</td><td class="n">22.1</td><td class="n">24.8</td><td class="n">6.1</td><td class="n">7</td><td class="yl org">岩田 康誠</td><td>河嶋 宏樹</td></tr>
<tr><td class="o">6</td><td class="c f7">7</td><td class="c f7">7</td><td>リアンマヒナ</td><td class="n">54.7</td><td class="n lb">189.4</td><td class="n">3</td><td class="n">10</td><td>田口 貫太</td><td>高橋 一哉</td></tr>
<tr><td class="o">10</td><td class="c f1">1</td><td class="c f1">1</td><td>コスモギオン</td><td class="n">65.9</td><td class="n lb">137.9</td><td class="n pk">1.6</td><td class="n">8</td><td>杉原 誠人</td><td class="org">宮 徹</td></tr>
<tr><td class="o">9</td><td class="c f8">8</td><td class="c f8">9</td><td>アスクチャンスマン</td><td class="n">100</td><td class="n lb">166.1</td><td class="n">1.3</td><td class="n">9</td><td>☆西塚 洸二</td><td>梅田 智之</td></tr>
</table>
<div class="pay" style="top:272px">単勝　 6 250円 2番人気
枠連　 4-6 260円 1番人気
馬連　 4-6 280円 1番人気
馬単　 6-4 600円 2番人気
3連複　4-5-6 650円 2番人気
3連単　6-4-5 3,300円 8番人気</div>
<div class="sen" style="top:271px">連対馬潜伏枠</div>

<div class="z" style="left:429px;top:66px"><h6>Aゾーン</h6>
<p><i class=f4>4</i><i class=f6>6</i><b class=u>2.6</b></p><p><i class=f5>5</i><i class=f7>7</i><b>19.1</b></p><p><i class=f2>2</i><i class=f4>4</i><b class=r>26.7</b></p><p><i class=f2>2</i><i class=f3>3</i><b class=r>51.7</b></p><p><i class=f1>1</i><i class=f5>5</i><b>337</b></p></div>
<div class="z" style="left:504px;top:66px"><h6>Bゾーン +</h6>
<p><i class=f4>4</i><i class=f7>7</i><b class=r>11.4</b></p><p><i class=f3>3</i><i class=f6>6</i><b class=u>15</b></p><p><i class=f2>2</i><i class=f6>6</i><b class=r>22.6</b></p><p><i class=f6>6</i><i class=f8>8</i><b>26.7</b></p><p><i class=f4>4</i><i class=f8>8</i><b class=u>34</b></p><p><i class=f3>3</i><i class=f7>7</i><b class=r>42.5</b></p><p><i class=f2>2</i><i class=f7>7</i><b class=r>64.7</b></p></div>
<div class="z" style="left:578px;top:66px"><h6>Cゾーン +</h6>
<p><i class=f6>6</i><i class=f7>7</i><b class=r>11.1</b></p><p><i class=f5>5</i><i class=f6>6</i><b>11.3</b></p><p><i class=f3>3</i><i class=f4>4</i><b class=r>18.5</b></p><p><i class=f2>2</i><i class=f5>5</i><b class=u>73.8</b></p></div>
<div class="z" style="left:504px;top:208px"><h6 class=m>Bゾーン -</h6>
<p><i class=f4>4</i><i class=f5>5</i><b class="u k">8.1</b></p><p><i class=f7>7</i><i class=f8>8</i><b class=k>53</b></p><p><i class=f1>1</i><i class=f6>6</i><b>114</b></p><p><i class=f1>1</i><i class=f4>4</i><b class=r>127</b></p><p><i class=f7>7</i><i class=f7>7</i><b>287</b></p></div>
<div class="z" style="left:578px;top:208px"><h6 class=m>Cゾーン -</h6>
<p><i class=f1>1</i><i class=f7>7</i><b>193</b></p><p><i class=f8>8</i><i class=f8>8</i><b>302</b></p></div>
<div class="z" style="left:504px;top:319px"><h6 class=m>Dゾーン +</h6>
<p><i class=f3>3</i><i class=f5>5</i><b class="u g">50.6</b></p><p><i class=f3>3</i><i class=f8>8</i><b class=g>68.9</b></p><p><i class=f5>5</i><i class=f8>8</i><b class=g>80.3</b></p></div>
<div class="z" style="left:578px;top:319px"><h6 class=m>Dゾーン -</h6></div>

<div class="z" style="left:653px;top:66px"><h6>Aゾーン</h6>
<p><i class=h4>4</i><i class=h6>6</i><b class=u>2.8</b></p><p><i class=h4>4</i><i class=h8>8</i><b class=r>8.6</b></p><p><i class=h2>2</i><i class=h6>6</i><b class=r>21.2</b></p><p><i class=h2>2</i><i class=h4>4</i><b class=r>25.2</b></p><p><i class=h5>5</i><i class=h8>8</i><b>25.2</b></p><p><i class=h2>2</i><i class=h8>8</i><b class=r>53.7</b></p><p><i class=h8>8</i><i class=h10>10</i><b>84.5</b></p><p><i class=h3>3</i><i class=h10>10</i><b>87.5</b></p><p><i class=h6>6</i><i class=h9>9</i><b>169</b></p><p><i class=h6>6</i><i class=h7>7</i><b>198</b></p></div>
<div class="z" style="left:727px;top:66px"><h6>Bゾーン +</h6>
<p><i class=h6>6</i><i class=h8>8</i><b class=r>10.4</b></p><p><i class=h5>5</i><i class=h6>6</i><b>13</b></p><p><i class=h3>3</i><i class=h6>6</i><b class=u>15</b></p><p><i class=h3>3</i><i class=h4>4</i><b class=r>18</b></p><p><i class=h6>6</i><i class=h10>10</i><b>30.6</b></p><p><i class=h4>4</i><i class=h10>10</i><b class=u>34.2</b></p><p><i class=h3>3</i><i class=h8>8</i><b class=r>37.1</b></p><p><i class=h2>2</i><i class=h5>5</i><b class=u>75.7</b></p><p><i class=h5>5</i><i class=h10>10</i><b>97.8</b></p><p><i class=h1>1</i><i class=h6>6</i><b>140</b></p><p><i class=h4>4</i><i class=h9>9</i><b>236</b></p></div>
<div class="z" style="left:800px;top:66px"><h6>Cゾーン +</h6>
<p><i class=h3>3</i><i class=h5>5</i><b class=u>52.4</b></p></div>
<div class="z" style="left:727px;top:272px"><h6 class=m>Bゾーン -</h6>
<p><i class=h4>4</i><i class=h5>5</i><b class="u k">8.1</b></p><p><i class=h2>2</i><i class=h3>3</i><b class=r>47.1</b></p><p><i class=h2>2</i><i class=h10>10</i><b>115</b></p><p><i class=h1>1</i><i class=h4>4</i><b class=r>120</b></p></div>
<div class="z" style="left:800px;top:272px"><h6 class=m>Cゾーン -</h6>
<p><i class=h4>4</i><i class=h7>7</i><b class=k>162</b></p><p><i class=h8>8</i><i class=h9>9</i><b class=k>231</b></p><p><i class=h1>1</i><i class=h3>3</i><b class=g>265</b></p></div>
<div class="z" style="left:727px;top:367px"><h6 class=m>Dゾーン +</h6></div>
<div class="z" style="left:800px;top:367px"><h6 class=m>Dゾーン -</h6></div>

<div class="z" style="left:875px;top:66px"><h6>Aゾーン</h6>
<p><i class=h4>4</i><i class=h6>6</i><b>5.3</b></p><p><i class=h6>6</i><i class=h4>4</i><b>6</b></p><p><i class=h4>4</i><i class=h8>8</i><b>14</b></p><p><i class=h4>4</i><i class=h5>5</i><b>14.6</b></p><p><i class=h8>8</i><i class=h4>4</i><b>21.9</b></p><p><i class=h6>6</i><i class=h2>2</i><b>26.7</b></p><p><i class=h4>4</i><i class=h2>2</i><b>33.4</b></p><p><i class=h4>4</i><i class=h10>10</i><b>46.2</b></p><p><i class=h5>5</i><i class=h8>8</i><b>50.9</b></p><p><i class=h2>2</i><i class=h6>6</i><b>54.3</b></p><p><i class=h8>8</i><i class=h2>2</i><b>103</b></p><p><i class=h2>2</i><i class=h8>8</i><b>127</b></p><p><i class=h5>5</i><i class=h10>10</i><b>153</b></p><p><i class=h6>6</i><i class=h1>1</i><b>169</b></p><p><i class=h6>6</i><i class=h9>9</i><b>183</b></p><p><i class=h10>10</i><i class=h3>3</i><b>218</b></p><p><i class=h4>4</i><i class=h9>9</i><b>268</b></p><p><i class=h10>10</i><i class=h2>2</i><b>270</b></p><p><i class=h6>6</i><i class=h7>7</i><b>278</b></p></div>
<div class="z" style="left:949px;top:66px"><h6>Bゾーン +</h6>
<p><i class=h6>6</i><i class=h8>8</i><b>17.7</b></p><p><i class=h6>6</i><i class=h3>3</i><b>19.5</b></p><p><i class=h6>6</i><i class=h5>5</i><b>21.8</b></p><p><i class=h4>4</i><i class=h3>3</i><b>24.4</b></p><p><i class=h8>8</i><i class=h6>6</i><b>25</b></p><p><i class=h5>5</i><i class=h6>6</i><b>26.9</b></p><p><i class=h3>3</i><i class=h6>6</i><b>34.5</b></p><p><i class=h3>3</i><i class=h4>4</i><b>41</b></p><p><i class=h6>6</i><i class=h10>10</i><b>46.5</b></p><p><i class=h2>2</i><i class=h4>4</i><b>74.8</b></p><p><i class=h3>3</i><i class=h8>8</i><b>75.7</b></p><p><i class=h8>8</i><i class=h3>3</i><b>77.1</b></p><p><i class=h10>10</i><i class=h6>6</i><b>85</b></p><p><i class=h10>10</i><i class=h4>4</i><b>88.6</b></p><p><i class=h5>5</i><i class=h3>3</i><b>88.9</b></p><p><i class=h3>3</i><i class=h5>5</i><b>90.6</b></p><p><i class=h5>5</i><i class=h2>2</i><b>143</b></p><p><i class=h8>8</i><i class=h10>10</i><b>151</b></p><p><i class=h2>2</i><i class=h5>5</i><b>191</b></p><p><i class=h10>10</i><i class=h8>8</i><b>217</b></p><p><i class=h10>10</i><i class=h5>5</i><b>231</b></p><p><i class=h1>1</i><i class=h6>6</i><b>439</b></p></div>
<div class="z" style="left:1022px;top:66px"><h6>Cゾーン +</h6></div>
<div class="z" style="left:949px;top:448px"><h6 class=m>Bゾーン -</h6>
<p><i class=h5>5</i><i class=h4>4</i><b>20.9</b></p><p><i class=h8>8</i><i class=h5>5</i><b>46</b></p><p><i class=h3>3</i><i class=h2>2</i><b>94.3</b></p><p><i class=h3>3</i><i class=h10>10</i><b>153</b></p><p><i class=h4>4</i><i class=h1>1</i><b>166</b></p><p><i class=h4>4</i><i class=h7>7</i><b>247</b></p></div>
<div class="z" style="left:1022px;top:448px"><h6 class=m>Cゾーン -</h6>
<p><i class=h2>2</i><i class=h3>3</i><b>116</b></p><p><i class=h2>2</i><i class=h10>10</i><b>248</b></p><p><i class=h3>3</i><i class=h1>1</i><b class=g>425</b></p><p><i class=h8>8</i><i class=h9>9</i><b>452</b></p><p><i class=h8>8</i><i class=h1>1</i><b class=g>461</b></p></div>
<div class="z" style="left:949px;top:575px"><h6 class=m>Dゾーン +</h6></div>
<div class="z" style="left:1022px;top:575px"><h6 class=m>Dゾーン -</h6></div>
</div>

<!-- ================= BLOCK 4 ================= -->
<div class="blk b4" style="top:1921px">
<div class="ti">2025/09/28　4回阪神9日　4R</div>
<div class="ti ti2">最終オッズ</div>
<div class="bar" style="left:25px;width:394px">出馬表</div>
<div class="bar" style="left:428px;width:660px">式別ごとのゾーン</div>
<div class="sh" style="left:429px;width:217px;background:#ece9e2">枠複</div>
<div class="sh" style="left:653px;width:215px;background:#dcebf7">馬複</div>
<div class="sh" style="left:875px;width:215px;background:#e4ebcf">馬単</div>
<table>
<colgroup><col style="width:18px"><col style="width:18px"><col style="width:19px"><col style="width:113px"><col style="width:33px"><col style="width:33px"><col style="width:24px"><col style="width:19px"><col style="width:72px"><col style="width:65px"></colgroup>
<tr class="hd"><td class="o" style="text-align:center">着</td><td rowspan="2">枠<br>番</td><td rowspan="2">馬<br>番</td><td rowspan="2">馬　　名</td><td colspan="2">単勝オッズ</td><td rowspan="2" style="background:#f00;color:#fff;font-size:10px;white-space:normal;line-height:13px">期待値</td><td rowspan="2">人<br>気</td><td rowspan="2">騎　手</td><td rowspan="2">調教師</td></tr>
<tr class="hd"><td class="o" style="text-align:center">順</td><td>朝1</td><td>現在</td></tr>
<tr><td class="o">1</td><td class="c f8">8</td><td class="c f8">9</td><td class="pk">ジュウリョクピエロ</td><td class="n">3.7</td><td class="n">2.9</td><td class="n">47</td><td class="n">1</td><td>◇今村 聖奈</td><td>寺島 良</td></tr>
<tr><td class="o">7</td><td class="c f2">2</td><td class="c f2">2</td><td>メイショウテスコ</td><td class="n">4.2</td><td class="n lb">9.4</td><td class="n">44</td><td class="n">6</td><td class="lb">酒井 学</td><td>秋山 真一郎</td></tr>
<tr><td class="o">2</td><td class="c f7">7</td><td class="c f7">7</td><td>ロードステラート</td><td class="n">8.8</td><td class="n lb">20.8</td><td class="n">24</td><td class="n">7</td><td>富田 暁</td><td>武 英智</td></tr>
<tr><td class="o">6</td><td class="c f1">1</td><td class="c f1">1</td><td>クイーンズドリーム</td><td class="n">6.6</td><td class="n">7.2</td><td class="n">20</td><td class="n">3</td><td class="lb">☆高杉 吏麒</td><td class="red">大久保 龍志</td></tr>
<tr><td class="o">5</td><td class="c f8">8</td><td class="c f8">8</td><td class="pk">ムテキシャチョウ</td><td class="n">4.7</td><td class="n pk red">3</td><td class="n">17</td><td class="n">2</td><td class="lb">西村 淳也</td><td class="red">森 秀行</td></tr>
<tr><td class="o">3</td><td class="c f4">4</td><td class="c f4">4</td><td>グロリアス</td><td class="n">9.5</td><td class="n">7.9</td><td class="n">11</td><td class="n">5</td><td>田口 貫太</td><td>新谷 功一</td></tr>
<tr><td class="o">9</td><td class="c f5">5</td><td class="c f5">5</td><td>ミディエイター</td><td class="n">23.8</td><td class="n lb">75.9</td><td class="n">9.6</td><td class="n">8</td><td>☆吉村 誠之助</td><td>茶木 太樹</td></tr>
<tr><td class="o">4</td><td class="c f3">3</td><td class="c f3">3</td><td>サダムジャズボッサ</td><td class="n">31.4</td><td class="n lb">134.5</td><td class="n">9.3</td><td class="n">9</td><td>荻野 琢真</td><td>平田 修</td></tr>
<tr><td class="o">8</td><td class="c f6">6</td><td class="c f6">6</td><td>トリーア</td><td class="n">10.6</td><td class="n pk red">7.3</td><td class="n">9.2</td><td class="n">4</td><td class="lb">鮫島 克駿</td><td>渡辺 薫彦</td></tr>
</table>
<div class="pay" style="top:256px">単勝　 9 290円 1番人気
枠連　 7-8 1,860円 6番人気
馬連　 7-9 3,620円 17番人気
馬単　 9-7 4,480円 27番人気
3連複　4-7-9 5,500円 26番人気
3連単　9-7-4 26,030円 115番人気</div>
<div class="sen" style="top:255px">連対馬潜伏枠</div>
<div class="sb f8" style="top:273px">8</div>

<div class="z" style="left:429px;top:66px"><h6>Aゾーン</h6>
<p><i class=f2>2</i><i class=f8>8</i><b class=k>5.2</b></p><p><i class=f4>4</i><i class=f6>6</i><b class=r>21.6</b></p><p><i class=f1>1</i><i class=f6>6</i><b class=r>25.8</b></p><p><i class=f1>1</i><i class=f2>2</i><b class="u k">28.7</b></p><p><i class=f1>1</i><i class=f4>4</i><b class=r>28</b></p><p><i class=f5>5</i><i class=f8>8</i><b>49</b></p><p><i class=f6>6</i><i class=f7>7</i><b class=r>57.9</b></p><p><i class=f3>3</i><i class=f8>8</i><b>81</b></p><p><i class=f1>1</i><i class=f7>7</i><b class=r>87.3</b></p><p><i class=f1>1</i><i class=f5>5</i><b class=r>214</b></p><p><i class=f3>3</i><i class=f4>4</i><b class=u>283</b></p></div>
<div class="z" style="left:504px;top:66px"><h6>Bゾーン +</h6>
<p><i class=f4>4</i><i class=f8>8</i><b>5.4</b></p><p><i class=f8>8</i><i class=f8>8</i><b class=r>5.5</b></p><p><i class=f6>6</i><i class=f8>8</i><b class=k>5.8</b></p><p><i class=f1>1</i><i class=f8>8</i><b>6.5</b></p><p><i class=f4>4</i><i class=f7>7</i><b class=r>54</b></p><p><i class=f4>4</i><i class=f5>5</i><b class="r k">199</b></p></div>
<div class="z" style="left:578px;top:66px"><h6>Cゾーン +</h6>
<p><i class=f7>7</i><i class=f8>8</i><b>18.6</b></p><p><i class=f2>2</i><i class=f7>7</i><b class="r g">86.3</b></p></div>
<div class="z" style="left:504px;top:192px"><h6 class=m>Bゾーン -</h6>
<p><i class=f2>2</i><i class=f6>6</i><b class=r>24.6</b></p></div>
<div class="z" style="left:578px;top:192px"><h6 class=m>Cゾーン -</h6>
<p><i class=f5>5</i><i class=f6>6</i><b class=r>156</b></p><p><i class=f1>1</i><i class=f3>3</i><b class=r>262</b></p><p><i class=f3>3</i><i class=f6>6</i><b class=r>273</b></p></div>
<div class="z" style="left:504px;top:271px"><h6 class=m>Dゾーン +</h6>
<p><i class=f2>2</i><i class=f4>4</i><b class="r g">37.8</b></p><p><i class=f2>2</i><i class=f5>5</i><b class="r g">247</b></p></div>
<div class="z" style="left:578px;top:271px"><h6 class=m>Dゾーン -</h6></div>

<div class="z" style="left:653px;top:66px"><h6>Aゾーン</h6>
<p><i class=h6>6</i><i class=h8>8</i><b class=k>8.7</b></p><p><i class=h4>4</i><i class=h8>8</i><b>9.6</b></p><p><i class=h1>1</i><i class=h8>8</i><b class=k>11.5</b></p><p><i class=h4>4</i><i class=h9>9</i><b class=k>12.5</b></p><p><i class=h4>4</i><i class=h6>6</i><b class=r>18.9</b></p><p><i class=h1>1</i><i class=h6>6</i><b class=r>19.6</b></p><p><i class=h2>2</i><i class=h6>6</i><b class=r>21.4</b></p><p><i class=h1>1</i><i class=h4>4</i><b class=r>22.5</b></p><p><i class=h7>7</i><i class=h8>8</i><b>26.1</b></p><p><i class=h1>1</i><i class=h2>2</i><b class=u>28.1</b></p><p><i class=h6>6</i><i class=h7>7</i><b class=r>45.2</b></p><p><i class=h1>1</i><i class=h7>7</i><b class=r>56.4</b></p><p><i class=h5>5</i><i class=h8>8</i><b>88.1</b></p><p><i class=h3>3</i><i class=h8>8</i><b>168</b></p><p><i class=h4>4</i><i class=h5>5</i><b class=r>179</b></p><p><i class=h3>3</i><i class=h6>6</i><b class=r>220</b></p></div>
<div class="z" style="left:727px;top:66px"><h6>Bゾーン +</h6>
<p><i class=h8>8</i><i class=h9>9</i><b class=r>5.2</b></p><p><i class=h1>1</i><i class=h9>9</i><b>16.5</b></p><p><i class=h7>7</i><i class=h9>9</i><b>36.2</b></p><p><i class=h4>4</i><i class=h7>7</i><b class="r k">52.2</b></p><p><i class=h2>2</i><i class=h7>7</i><b class="r k">66.1</b></p><p><i class=h5>5</i><i class=h9>9</i><b>135</b></p><p><i class=h3>3</i><i class=h9>9</i><b>223</b></p></div>
<div class="z" style="left:800px;top:66px"><h6>Cゾーン +</h6>
<p><i class=h2>2</i><i class=h8>8</i><b>14.7</b></p><p><i class=h6>6</i><i class=h9>9</i><b>18.2</b></p><p><i class=h2>2</i><i class=h9>9</i><b>19.1</b></p><p><i class=h2>2</i><i class=h4>4</i><b class="r k">30.2</b></p><p><i class=h2>2</i><i class=h5>5</i><b class=r>228</b></p></div>
<div class="z" style="left:727px;top:208px"><h6 class=m>Bゾーン -</h6>
<p><i class=h1>1</i><i class=h5>5</i><b class=r>146</b></p><p><i class=h5>5</i><i class=h7>7</i><b class="r g">251</b></p><p><i class=h3>3</i><i class=h4>4</i><b class=u>293</b></p></div>
<div class="z" style="left:800px;top:208px"><h6 class=m>Cゾーン -</h6>
<p><i class=h5>5</i><i class=h6>6</i><b class=r>126</b></p><p><i class=h1>1</i><i class=h3>3</i><b class="r g">226</b></p></div>
<div class="z" style="left:727px;top:287px"><h6 class=m>Dゾーン +</h6></div>
<div class="z" style="left:800px;top:287px"><h6 class=m>Dゾーン -</h6></div>

<div class="z" style="left:875px;top:66px"><h6>Aゾーン</h6>
<p><i class=h8>8</i><i class=h6>6</i><b>14.2</b></p><p><i class=h8>8</i><i class=h4>4</i><b>15.9</b></p><p><i class=h8>8</i><i class=h1>1</i><b>18.4</b></p><p><i class=h9>9</i><i class=h4>4</i><b>19.1</b></p><p><i class=h4>4</i><i class=h8>8</i><b>22.7</b></p><p><i class=h6>6</i><i class=h8>8</i><b>23.7</b></p><p><i class=h4>4</i><i class=h9>9</i><b>26.8</b></p><p><i class=h1>1</i><i class=h6>6</i><b>36.5</b></p><p><i class=h8>8</i><i class=h7>7</i><b>37.9</b></p><p><i class=h1>1</i><i class=h4>4</i><b>41</b></p><p><i class=h6>6</i><i class=h1>1</i><b>41.3</b></p><p><i class=h6>6</i><i class=h2>2</i><b>44.7</b></p><p><i class=h9>9</i><i class=h7>7</i><b>44.8</b></p><p><i class=h2>2</i><i class=h6>6</i><b>51.8</b></p><p><i class=h1>1</i><i class=h2>2</i><b>52</b></p><p><i class=h2>2</i><i class=h1>1</i><b>61.7</b></p><p><i class=h7>7</i><i class=h8>8</i><b>74</b></p><p><i class=h6>6</i><i class=h7>7</i><b>83.6</b></p><p><i class=h7>7</i><i class=h9>9</i><b>84.5</b></p><p><i class=h1>1</i><i class=h7>7</i><b>88.8</b></p><p><i class=h8>8</i><i class=h5>5</i><b>115</b></p><p><i class=h7>7</i><i class=h4>4</i><b>115</b></p><p><i class=h9>9</i><i class=h5>5</i><b>174</b></p><p><i class=h8>8</i><i class=h3>3</i><b>201</b></p><p><i class=h9>9</i><i class=h3>3</i><b>261</b></p><p><i class=h5>5</i><i class=h8>8</i><b>285</b></p><p><i class=h5>5</i><i class=h4>4</i><b>478</b></p></div>
<div class="z" style="left:949px;top:66px"><h6>Bゾーン +</h6>
<p><i class=h9>9</i><i class=h8>8</i><b>10.1</b></p><p><i class=h8>8</i><i class=h9>9</i><b>10.6</b></p><p><i class=h9>9</i><i class=h1>1</i><b>25.1</b></p><p><i class=h1>1</i><i class=h8>8</i><b>28.6</b></p><p><i class=h1>1</i><i class=h9>9</i><b>36.4</b></p><p><i class=h2>2</i><i class=h8>8</i><b>38.9</b></p><p><i class=h2>2</i><i class=h9>9</i><b>44.3</b></p><p><i class=h4>4</i><i class=h2>2</i><b>57.6</b></p><p><i class=h2>2</i><i class=h4>4</i><b>59.8</b></p><p><i class=h2>2</i><i class=h7>7</i><b class=g>122</b></p><p><i class=h5>5</i><i class=h9>9</i><b>381</b></p><p><i class=h5>5</i><i class=h1>1</i><b>410</b></p></div>
<div class="z" style="left:1022px;top:66px"><h6>Cゾーン +</h6>
<p><i class=h8>8</i><i class=h2>2</i><b>24.1</b></p><p><i class=h9>9</i><i class=h6>6</i><b>28.4</b></p><p><i class=h6>6</i><i class=h9>9</i><b>43.7</b></p><p><i class=h7>7</i><i class=h2>2</i><b class=g>151</b></p></div>
<div class="z" style="left:949px;top:288px"><h6 class=m>Bゾーン -</h6>
<p><i class=h6>6</i><i class=h4>4</i><b>36.6</b></p><p><i class=h4>4</i><i class=h6>6</i><b>38.2</b></p><p><i class=h4>4</i><i class=h1>1</i><b>42.2</b></p><p><i class=h4>4</i><i class=h7>7</i><b class=g>84.7</b></p><p><i class=h7>7</i><i class=h6>6</i><b>109</b></p><p><i class=h7>7</i><i class=h1>1</i><b>121</b></p><p><i class=h1>1</i><i class=h5>5</i><b class=g>237</b></p><p><i class=h4>4</i><i class=h5>5</i><b class=g>288</b></p><p><i class=h2>2</i><i class=h5>5</i><b class=g>305</b></p><p><i class=h5>5</i><i class=h6>6</i><b class=g>354</b></p><p><i class=h6>6</i><i class=h3>3</i><b class=g>367</b></p><p><i class=h3>3</i><i class=h8>8</i><b class=g>439</b></p></div>
<div class="z" style="left:1022px;top:288px"><h6 class=m>Cゾーン -</h6>
<p><i class=h6>6</i><i class=h5>5</i><b>216</b></p><p><i class=h1>1</i><i class=h3>3</i><b>332</b></p><p><i class=h4>4</i><i class=h3>3</i><b class=g>415</b></p></div>
<div class="z" style="left:949px;top:511px"><h6 class=m>Dゾーン +</h6>
<p><i class=h9>9</i><i class=h2>2</i><b>31.5</b></p></div>
<div class="z" style="left:1022px;top:511px"><h6 class=m>Dゾーン -</h6></div>
</div>
</body></html>
